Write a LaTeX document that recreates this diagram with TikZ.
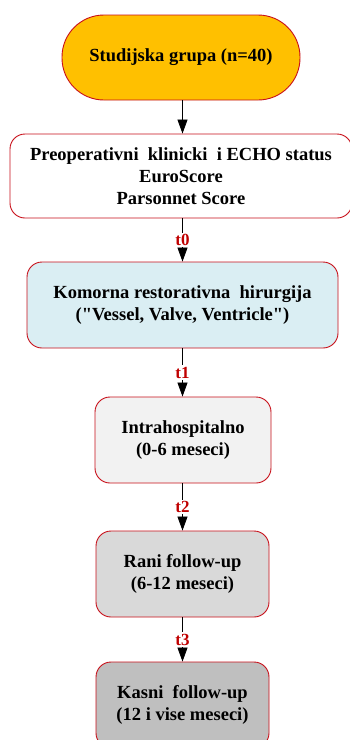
\documentclass[tikz,border=0pt]{standalone}
\usepackage{fontspec}
\setmainfont{Liberation Serif}
\usetikzlibrary{arrows.meta}
\definecolor{edgered}{HTML}{C8101A}
\definecolor{labelred}{HTML}{C00000}
\definecolor{gold}{HTML}{FFC000}
\definecolor{paleblue}{HTML}{DAEEF3}
\definecolor{grayA}{HTML}{F2F2F2}
\definecolor{grayB}{HTML}{D9D9D9}
\definecolor{grayC}{HTML}{BFBFBF}
% straight double quote glyph, placed directly so no text mapping curls it
\newcommand{\dq}{\XeTeXglyph\XeTeXcharglyph"22\relax}
\tikzset{
  box/.style={draw=edgered, line width=0.9pt, rounded corners=15pt, align=center,
    font=\fontsize{18.5}{21.8}\selectfont\bfseries, inner sep=2pt},
  flow/.style={draw=black, line width=0.8pt, -{Triangle[length=14pt,width=10pt]}},
  tlabel/.style={fill=white, text=labelred, font=\fontsize{17}{19}\selectfont\bfseries,
    inner sep=1.5pt}
}
\begin{document}
\begin{tikzpicture}[x=1pt,y=1pt]
\useasboundingbox (0,0) rectangle (349,-740);
\fill[white] (0,0) rectangle (349,-740);

\node[box, fill=gold, rounded corners=42pt, minimum width=238pt, minimum height=85pt]
  (grp) at (181,-57.5) {Studijska grupa (n=40)};
\node[box, fill=white, minimum width=342pt, minimum height=84pt]
  (pre) at (181,-176) {Preoperativni\ \ klinicki\ \ i ECHO status\\EuroScore\\Parsonnet Score};
\node[box, fill=paleblue, minimum width=311pt, minimum height=86pt]
  (sur) at (182.5,-305) {Komorna restorativna\ \ hirurgija\\(\dq Vessel, Valve, Ventricle\dq)};
\node[box, fill=grayA, minimum width=176pt, minimum height=86pt]
  (hos) at (183,-440) {Intrahospitalno\\(0-6 meseci)};
\node[box, fill=grayB, minimum width=173pt, minimum height=86pt]
  (early) at (182.5,-574) {Rani follow-up\\(6-12 meseci)};
\node[box, fill=grayC, minimum width=173pt, minimum height=86pt]
  (late) at (182.5,-705) {Kasni\ \ follow-up\\(12 i vise meseci)};

\draw[flow] (grp.south -| 182.5,0) -- (pre.north -| 182.5,0);
\draw[flow] (pre.south -| 182.5,0) -- node[tlabel] {t0} (sur.north -| 182.5,0);
\draw[flow] (sur.south -| 182.5,0) -- node[tlabel] {t1} (hos.north -| 182.5,0);
\draw[flow] (hos.south -| 182.5,0) -- node[tlabel] {t2} (early.north -| 182.5,0);
\draw[flow] (early.south -| 182.5,0) -- node[tlabel] {t3} (late.north -| 182.5,0);
\end{tikzpicture}
\end{document}
